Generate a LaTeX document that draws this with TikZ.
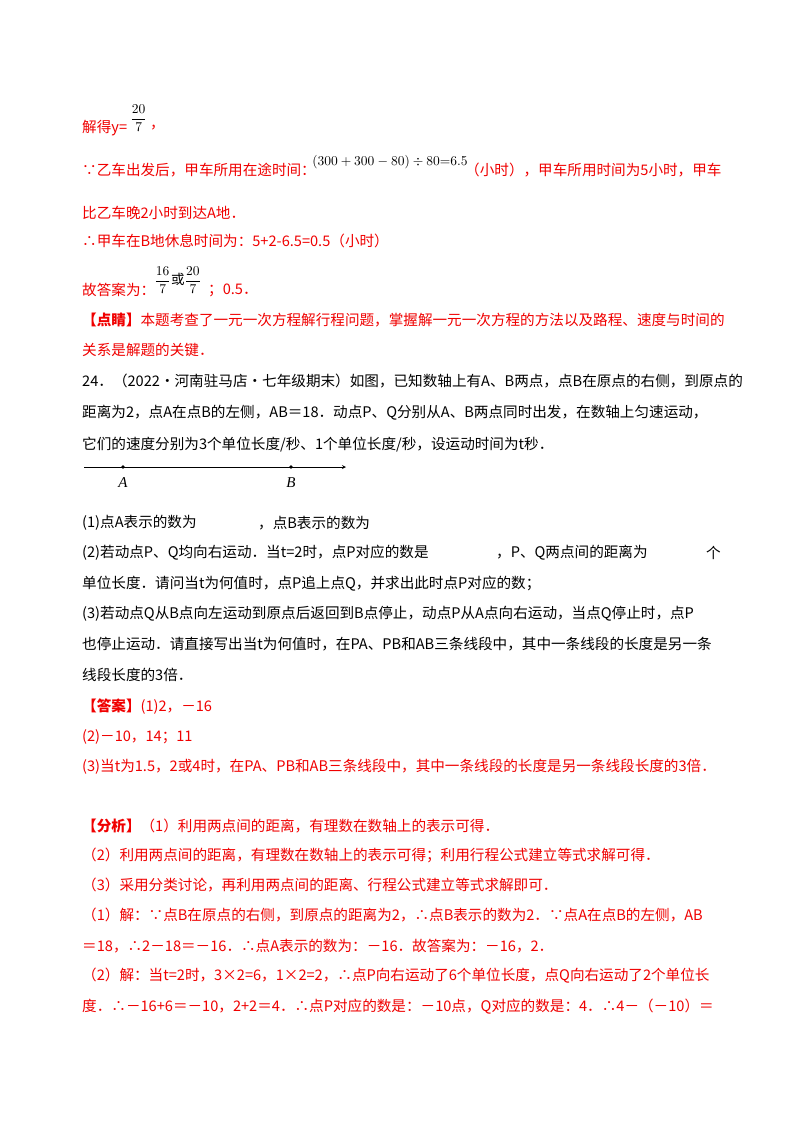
\documentclass[tikz,border=0pt]{standalone}
\usepackage{fontspec}
\usepackage{amsmath}
\setmainfont{Liberation Serif}
\newfontfamily\cjk{Noto Sans CJK SC}
\usetikzlibrary{positioning}
\definecolor{ansred}{RGB}{240,0,0}
\tikzset{
    txt/.style={anchor=west,inner sep=0pt,font=\cjk\fontsize{14.6}{15}\selectfont},
    red txt/.style={txt,text=ansred},
    frac txt/.style={anchor=west,inner sep=0pt,font=\cjk,scale=1.35,transform shape},
    pt/.style={circle,fill,inner sep=1.4pt},
  }

\begin{document}
\begin{tikzpicture}[x=1pt,y=-1pt]
				  \useasboundingbox[fill=white] (0,0) rectangle (800,1132);
				  %LIGNES DE SOLUTION
				  \node[red txt] (l1) at (82,128) {解得y=};
				  \node[frac txt] (f1) at (130,118) {$\dfrac{20}{7}$};
				  \node[red txt] (l1b) at (150,128) {，};
				  \node[red txt] (l2) at (82,170) {∵乙车出发后，甲车所用在途时间：};
				  \node[frac txt] (expr) at (312,162) {$(300+300-80)\div 80{=}6.5$};
				  \node[red txt] (l2b) at (465,170) {（小时），甲车所用时间为5小时，甲车};
				  \node[red txt] (l3) at (82,213) {比乙车晚2小时到达A地．};
				  \node[red txt] (l4) at (82,241) {∴甲车在B地休息时间为：5+2-6.5=0.5（小时）};
				  \node[red txt] (l5) at (82,290) {故答案为：};
				  \node[frac txt] (f2) at (154,280) {$\dfrac{16}{7}$或$\dfrac{20}{7}$};
				  \node[red txt] (l5b) at (208,290) {；0.5．};
				  \node[red txt] (l6) at (82,320) {\textbf{【点睛】}本题考查了一元一次方程解行程问题，掌握解一元一次方程的方法以及路程、速度与时间的};
				  \node[red txt] (l7) at (82,350) {关系是解题的关键．};

				  %ENONCE
				  \node[txt] (q1) at (82,381) {24．（2022·河南驻马店·七年级期末）如图，已知数轴上有A、B两点，点B在原点的右侧，到原点的};
				  \node[txt] (q2) at (82,413) {距离为2，点A在点B的左侧，AB＝18．动点P、Q分别从A、B两点同时出发，在数轴上匀速运动，};
				  \node[txt] (q3) at (82,445) {它们的速度分别为3个单位长度/秒、1个单位长度/秒，设运动时间为t秒．};

				  %AXE
				  \coordinate (O) at (84,467);
				  \coordinate (E) at (346,467);
				  \draw[thick,-stealth] (O) -- (E);
				  \node[pt] (A) at (123,467) {};
				  \node[pt] (B) at (291,467) {};
				  \node[below=5pt of A,font=\itshape\fontsize{15}{15}\selectfont] (Al) {A};
				  \node[below=5pt of B,font=\itshape\fontsize{15}{15}\selectfont] (Bl) {B};

				  %QUESTIONS
				  \node[txt] (q4) at (82,523) {(1)点A表示的数为};
				  \node[txt] (q4b) at (258,523) {，点B表示的数为};
				  \node[txt] (q5) at (82,553) {(2)若动点P、Q均向右运动．当t=2时，点P对应的数是};
				  \node[txt] (q5b) at (496,553) {，P、Q两点间的距离为};
				  \node[txt] (q5c) at (706,553) {个};
				  \node[txt] (q6) at (82,584) {单位长度．请问当t为何值时，点P追上点Q，并求出此时点P对应的数；};
				  \node[txt] (q7) at (82,614) {(3)若动点Q从B点向左运动到原点后返回到B点停止，动点P从A点向右运动，当点Q停止时，点P};
				  \node[txt] (q8) at (82,644) {也停止运动．请直接写出当t为何值时，在PA、PB和AB三条线段中，其中一条线段的长度是另一条};
				  \node[txt] (q9) at (82,675) {线段长度的3倍．};

				  %REPONSE
				  \node[red txt] (r1) at (82,707) {\textbf{【答案】}(1)2，－16};
				  \node[red txt] (r2) at (82,737) {(2)－10，14；11};
				  \node[red txt] (r3) at (82,767) {(3)当t为1.5，2或4时，在PA、PB和AB三条线段中，其中一条线段的长度是另一条线段长度的3倍．};
				  \node[red txt] (a1) at (82,826) {\textbf{【分析】}（1）利用两点间的距离，有理数在数轴上的表示可得．};
				  \node[red txt] (a2) at (82,855) {（2）利用两点间的距离，有理数在数轴上的表示可得；利用行程公式建立等式求解可得．};
				  \node[red txt] (a3) at (82,885) {（3）采用分类讨论，再利用两点间的距离、行程公式建立等式求解即可．};
				  \node[red txt] (a4) at (82,915) {（1）解：∵点B在原点的右侧，到原点的距离为2，∴点B表示的数为2．∵点A在点B的左侧，AB};
				  \node[red txt] (a5) at (82,946) {＝18，∴2－18＝－16．∴点A表示的数为：－16．故答案为：－16，2．};
				  \node[red txt] (a6) at (82,976) {（2）解：当t=2时，3×2=6，1×2=2，∴点P向右运动了6个单位长度，点Q向右运动了2个单位长};
				  \node[red txt] (a7) at (82,1007) {度．∴－16+6＝－10，2+2＝4．∴点P对应的数是：－10点，Q对应的数是：4．∴4－（－10）＝};
				  \end{tikzpicture}
\end{document}
